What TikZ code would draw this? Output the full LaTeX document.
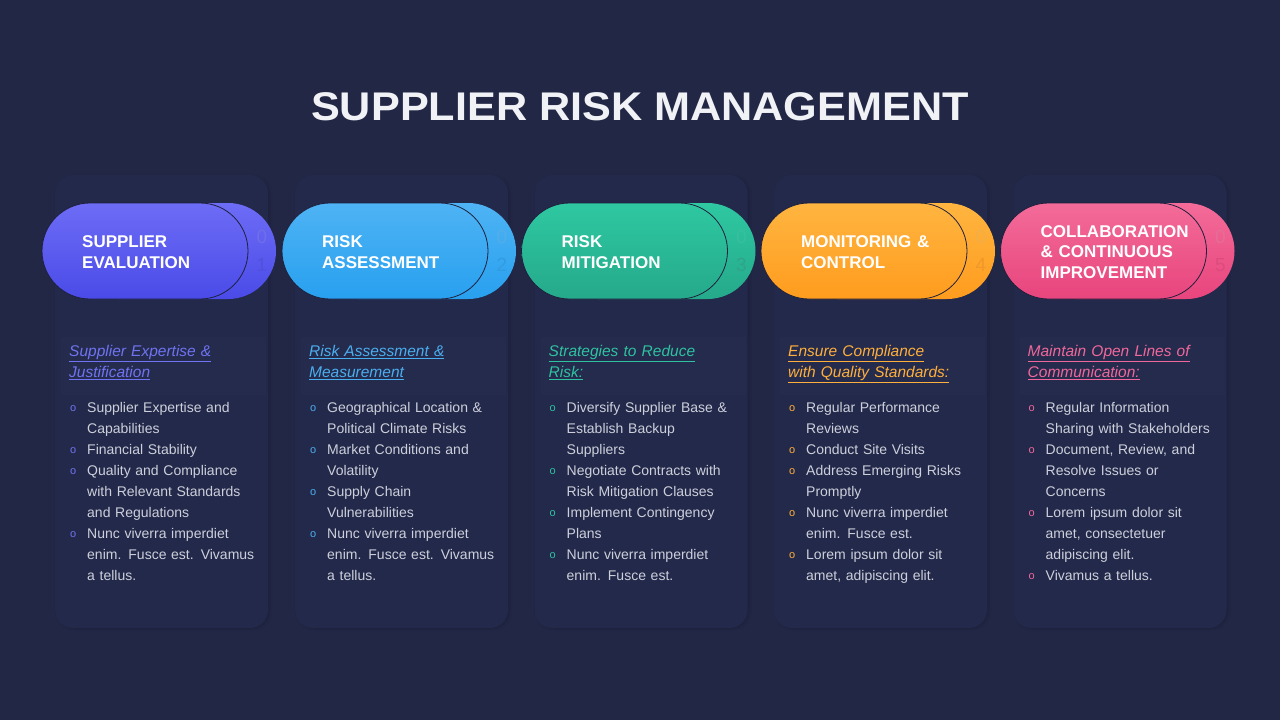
\documentclass[tikz,border=0pt]{standalone}
\usepackage{fontspec}
\usepackage{graphicx}
\setmainfont{Liberation Sans}
\usetikzlibrary{shapes.misc,shadows.blur}
\definecolor{bg}{HTML}{222746}
\definecolor{card}{HTML}{23294A}
\definecolor{subbox}{HTML}{242B4C}
\definecolor{body}{HTML}{CDD0DB}
\definecolor{titlec}{HTML}{F1F2F6}
\definecolor{pline}{HTML}{1E1F3C}
\definecolor{cAt}{HTML}{6D6CF6}\definecolor{cAb}{HTML}{4A4BE8}\definecolor{cA}{HTML}{7073F2}
\definecolor{cBt}{HTML}{4EB3F4}\definecolor{cBb}{HTML}{28A0EF}\definecolor{cB}{HTML}{4BAEF0}
\definecolor{cCt}{HTML}{2EC8A1}\definecolor{cCb}{HTML}{25A98B}\definecolor{cC}{HTML}{2FC2A0}
\definecolor{cDt}{HTML}{FFB540}\definecolor{cDb}{HTML}{FF9C1E}\definecolor{cD}{HTML}{FFAF3C}
\definecolor{cEt}{HTML}{F36B99}\definecolor{cEb}{HTML}{E8457D}\definecolor{cE}{HTML}{F0689B}
\tikzset{
  cardbox/.style={rounded corners=18pt, fill=card, draw=none,
    blur shadow={shadow xshift=2pt, shadow yshift=-1pt, shadow opacity=15, shadow blur steps=8}},
  pillback/.style={rounded rectangle, minimum width=206pt, minimum height=96pt, inner sep=0pt},
  pillfront/.style={rounded rectangle, minimum width=206pt, minimum height=96pt, inner sep=0pt, draw=pline, line width=0.8pt},
  pilltext/.style={anchor=base west, text width=190pt, align=left, inner sep=0pt, text=white,
    font=\fontsize{17}{21}\selectfont\bfseries},
  digit/.style={anchor=center, inner sep=0pt, font=\fontsize{19}{19}\selectfont},
  subtitle/.style={anchor=base west, text width=210pt, align=left, inner sep=0pt,
    font=\fontsize{15.5}{21}\selectfont\itshape},
  bodytext/.style={anchor=base west, text width=200pt, align=left, inner sep=0pt, text=body,
    font=\fontsize{14}{21}\selectfont},
  marker/.style={anchor=base west, inner sep=0pt, font=\fontsize{11}{21}\selectfont}
}
% column frame: #1 = column tag, #2 = top colour, #3 = bottom colour, #4 = digit
\newcommand\colframe[4]{%
  \path[cardbox] (55,175) rectangle (268,628);
  \fill[subbox] (61,337) rectangle (266,395);
  \node[pillback, top color=#2, bottom color=#3] (#1back) at (173,251) {};
  \node[digit, text=#2!88!gray] (#1d0) at (262,237) {0};
  \node[digit, text=#3!88!gray] (#1d1) at (262,265) {#4};
  \node[pillfront, top color=#2, bottom color=#3] (#1pill) at (145,251) {};
}
% bullet: #1 name, #2 colour, #3 line number, #4 text
\newcommand\bitem[4]{%
  \node[bodytext] (#1) at (87,{412+21*(#3-1)}) {#4};
  \node[marker, text=#2] (#1m) at (70,{411+21*(#3-1)}) {o};
}
\begin{document}
\begin{tikzpicture}[x=1pt,y=-1pt]
\fill[bg] (0,0) rectangle (1280,720);
\useasboundingbox (0,0) rectangle (1280,720);
\node[anchor=base, text=titlec, inner sep=0pt, font=\fontsize{40}{48}\selectfont\bfseries] (title) at (640,120)
  {\scalebox{1.08}[1]{SUPPLIER RISK MANAGEMENT}};

% ---------- column 1
\begin{scope}[xshift=0pt]
\colframe{a}{cAt}{cAb}{1}
\node[pilltext] (at) at (82,247) {SUPPLIER\\EVALUATION};
\node[subtitle, text=cA] (as) at (69,356.5) {\underline{Supplier Expertise \&}\\\underline{Justification}};
\bitem{ab1}{cA}{1}{Supplier Expertise and\\Capabilities}
\bitem{ab2}{cA}{3}{Financial Stability}
\bitem{ab3}{cA}{4}{Quality and Compliance\\with Relevant Standards\\and Regulations}
\bitem{ab4}{cA}{7}{Nunc viverra imperdiet\\enim. Fusce est. Vivamus\\a tellus.}
\end{scope}

% ---------- column 2
\begin{scope}[xshift=240pt]
\colframe{b}{cBt}{cBb}{2}
\node[pilltext] (bt) at (82,247) {RISK\\ASSESSMENT};
\node[subtitle, text=cB] (bs) at (69,356.5) {\underline{Risk Assessment \&}\\\underline{Measurement}};
\bitem{bb1}{cB}{1}{Geographical Location \&\\Political Climate Risks}
\bitem{bb2}{cB}{3}{Market Conditions and\\Volatility}
\bitem{bb3}{cB}{5}{Supply Chain\\Vulnerabilities}
\bitem{bb4}{cB}{7}{Nunc viverra imperdiet\\enim. Fusce est. Vivamus\\a tellus.}
\end{scope}

% ---------- column 3
\begin{scope}[xshift=479.5pt]
\colframe{c}{cCt}{cCb}{3}
\node[pilltext] (ct) at (82,247) {RISK\\MITIGATION};
\node[subtitle, text=cC] (cs) at (69,356.5) {\underline{Strategies to Reduce}\\\underline{Risk:}};
\bitem{cb1}{cC}{1}{Diversify Supplier Base \&\\Establish Backup\\Suppliers}
\bitem{cb2}{cC}{4}{Negotiate Contracts with\\Risk Mitigation Clauses}
\bitem{cb3}{cC}{6}{Implement Contingency\\Plans}
\bitem{cb4}{cC}{8}{Nunc viverra imperdiet\\enim. Fusce est.}
\end{scope}

% ---------- column 4
\begin{scope}[xshift=719pt]
\colframe{d}{cDt}{cDb}{4}
\node[pilltext] (dt) at (82,247) {MONITORING \&\\CONTROL};
\node[subtitle, text=cD] (ds) at (69,356.5) {\underline{Ensure Compliance}\\\underline{with Quality Standards:}};
\bitem{db1}{cD}{1}{Regular Performance\\Reviews}
\bitem{db2}{cD}{3}{Conduct Site Visits}
\bitem{db3}{cD}{4}{Address Emerging Risks\\Promptly}
\bitem{db4}{cD}{6}{Nunc viverra imperdiet\\enim. Fusce est.}
\bitem{db5}{cD}{8}{Lorem ipsum dolor sit\\amet, adipiscing elit.}
\end{scope}

% ---------- column 5
\begin{scope}[xshift=958.5pt]
\colframe{e}{cEt}{cEb}{5}
\node[pilltext, font=\fontsize{17}{20.5}\selectfont\bfseries] (et) at (82,237) {COLLABORATION\\\& CONTINUOUS\\IMPROVEMENT};
\node[subtitle, text=cE] (es) at (69,356.5) {\underline{Maintain Open Lines of}\\\underline{Communication:}};
\bitem{eb1}{cE}{1}{Regular Information\\Sharing with Stakeholders}
\bitem{eb2}{cE}{3}{Document, Review, and\\Resolve Issues or\\Concerns}
\bitem{eb3}{cE}{6}{Lorem ipsum dolor sit\\amet, consectetuer\\adipiscing elit.}
\bitem{eb4}{cE}{9}{Vivamus a tellus.}
\end{scope}
\end{tikzpicture}
\end{document}
